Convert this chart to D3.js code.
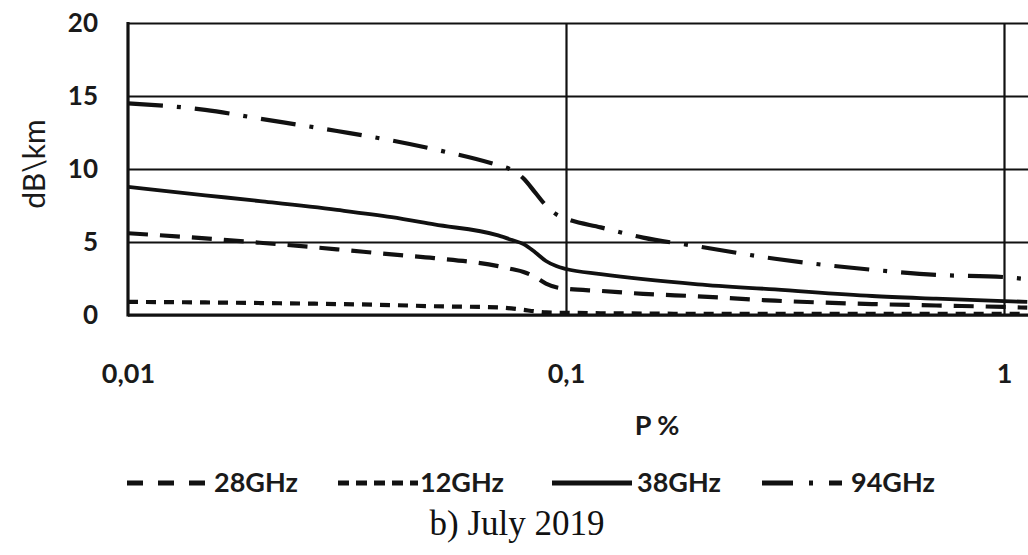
<!DOCTYPE html>
<html>
<head>
<meta charset="utf-8">
<script src="https://cdn.jsdelivr.net/npm/d3@7"></script>
<style>
  html, body { margin: 0; padding: 0; background: #fff; }
  svg { display: block; }
</style>
</head>
<body>
<svg id="chart" width="1028" height="555"></svg>
<script>
// ---------- data ----------
const pValues   = [0.01, 0.015, 0.02, 0.03, 0.04, 0.05, 0.07, 0.075, 0.08, 0.085, 0.09, 0.095, 0.1, 0.12, 0.15, 0.2, 0.3, 0.5, 0.7, 1, 1.13];
const ghz28     = [5.6, 5.25, 4.95, 4.5, 4.15, 3.9, 3.35, 3.15, 2.95, 2.6, 2.15, 1.9, 1.8, 1.65, 1.45, 1.28, 0.98, 0.75, 0.65, 0.55, 0.5];
const ghz12     = [0.9, 0.86, 0.82, 0.75, 0.68, 0.6, 0.52, 0.45, 0.35, 0.25, 0.18, 0.16, 0.15, 0.12, 0.1, 0.08, 0.08, 0.08, 0.08, 0.08, 0.08];
const ghz38     = [8.77, 8.2, 7.8, 7.2, 6.7, 6.2, 5.45, 5.15, 4.85, 4.3, 3.7, 3.35, 3.15, 2.8, 2.45, 2.1, 1.75, 1.3, 1.12, 0.95, 0.9];
const ghz94     = [14.5, 14.05, 13.45, 12.6, 11.95, 11.35, 10.25, 9.95, 9.35, 8.4, 7.5, 6.9, 6.6, 6.0, 5.3, 4.7, 3.85, 3.1, 2.75, 2.6, 2.45];
const seriesNames = ["28GHz", "12GHz", "38GHz", "94GHz"];
const xTickValues = [0.01, 0.1, 1];
const xTickLabels = ["0,01", "0,1", "1"];
const yTickValues = [0, 5, 10, 15, 20];
const xTitle = "P %";
const yTitle = "dB\\km";
const caption = "b) July 2019";

// ---------- layout ----------
const svg = d3.select("#chart");
const pLeft = 128, pRight = 1028, pTop = 23, pBottom = 315;

const x = d3.scaleLog().domain([0.01, 1]).range([pLeft, 1004]);
const y = d3.scaleLinear().domain([0, 20]).range([pBottom, pTop]);

const font = "Lato, 'Noto Sans', sans-serif";

// clip for plot area
svg.append("defs").append("clipPath").attr("id", "plotclip")
  .append("rect").attr("x", pLeft).attr("y", pTop - 5).attr("width", pRight - pLeft).attr("height", pBottom - pTop + 10);

// horizontal gridlines
const gy = svg.append("g").attr("transform", `translate(${pLeft},0)`)
  .call(d3.axisLeft(y).tickValues(yTickValues).tickSize(-(pRight - pLeft)).tickFormat(""));
gy.select(".domain").remove();
gy.selectAll(".tick line").attr("stroke", "#111").attr("stroke-width", 2.2);

// vertical gridlines
const gx = svg.append("g").attr("transform", `translate(0,${pTop})`)
  .call(d3.axisBottom(x).tickValues(xTickValues.slice(1)).tickSize(pBottom - pTop).tickFormat(""));
gx.select(".domain").remove();
gx.selectAll(".tick line").attr("stroke", "#111").attr("stroke-width", 2.2);

// series
const seriesData = [ghz28, ghz12, ghz38, ghz94];
const styles = [
  { dash: "20,12", width: 4.2 },
  { dash: "10,8", width: 4.2 },
  { dash: null, width: 3.8 },
  { dash: "35,14,4,14", width: 4.2 }
];
const line = d3.line()
  .x((d, i) => x(pValues[i]))
  .y(d => y(d))
  .curve(d3.curveMonotoneX);

const plot = svg.append("g").attr("clip-path", "url(#plotclip)");
seriesData.forEach((vals, k) => {
  plot.append("path")
    .datum(vals)
    .attr("d", line)
    .attr("fill", "none")
    .attr("stroke", "#111")
    .attr("stroke-width", styles[k].width)
    .attr("stroke-dasharray", styles[k].dash);
});

// axes lines (thick)
svg.append("line").attr("x1", pLeft).attr("x2", pLeft).attr("y1", pTop - 1).attr("y2", pBottom + 1.5)
  .attr("stroke", "#111").attr("stroke-width", 3.2);
svg.append("line").attr("x1", pLeft).attr("x2", pRight).attr("y1", pBottom).attr("y2", pBottom)
  .attr("stroke", "#111").attr("stroke-width", 3.2);

// y tick labels
const yAx = svg.append("g").attr("transform", `translate(${pLeft},0)`)
  .call(d3.axisLeft(y).tickValues(yTickValues).tickSize(0).tickPadding(30).tickFormat(d3.format("d")));
yAx.select(".domain").remove();
yAx.selectAll("text").attr("font-family", font).attr("font-size", 26).attr("font-weight", 700).attr("fill", "#1a1a1a");

// x tick labels
const xAx = svg.append("g").attr("transform", `translate(0,${pBottom})`)
  .call(d3.axisBottom(x).tickValues(xTickValues).tickSize(0).tickPadding(0)
    .tickFormat((d, i) => xTickLabels[i]));
xAx.select(".domain").remove();
xAx.selectAll("text").attr("font-family", font).attr("font-size", 27).attr("font-weight", 700)
  .attr("fill", "#1a1a1a").attr("dy", null).attr("y", 68);

// x title
svg.append("text").attr("x", 657).attr("y", 435).attr("text-anchor", "middle")
  .attr("font-family", font).attr("font-size", 27).attr("font-weight", 700).attr("fill", "#1a1a1a")
  .text(xTitle);

// y title
svg.append("text").attr("transform", "translate(45,164) rotate(-90)").attr("text-anchor", "middle")
  .attr("font-family", font).attr("font-size", 30).attr("font-weight", 400).attr("fill", "#1a1a1a")
  .text(yTitle);

// legend
const legendStarts = [127, 338, 552, 762];
const legendTextX = [214, 420, 637, 851];
const legendDash = ["16,15", "11,7", null, "31,16,4,16,40"];
const legendY = 483;
seriesNames.forEach((name, k) => {
  svg.append("line")
    .attr("x1", legendStarts[k]).attr("x2", legendStarts[k] + 80)
    .attr("y1", legendY).attr("y2", legendY)
    .attr("stroke", "#111").attr("stroke-width", 4.8)
    .attr("stroke-dasharray", legendDash[k]);
  svg.append("text").attr("x", legendTextX[k]).attr("y", 492)
    .attr("font-family", font).attr("font-size", 27).attr("font-weight", 700).attr("fill", "#1a1a1a")
    .text(name);
});

// caption
svg.append("text").attr("x", 517).attr("y", 535).attr("text-anchor", "middle")
  .attr("font-family", "'Liberation Serif', 'Times New Roman', serif").attr("font-size", 35).attr("fill", "#111")
  .text(caption);
</script>
</body>
</html>
